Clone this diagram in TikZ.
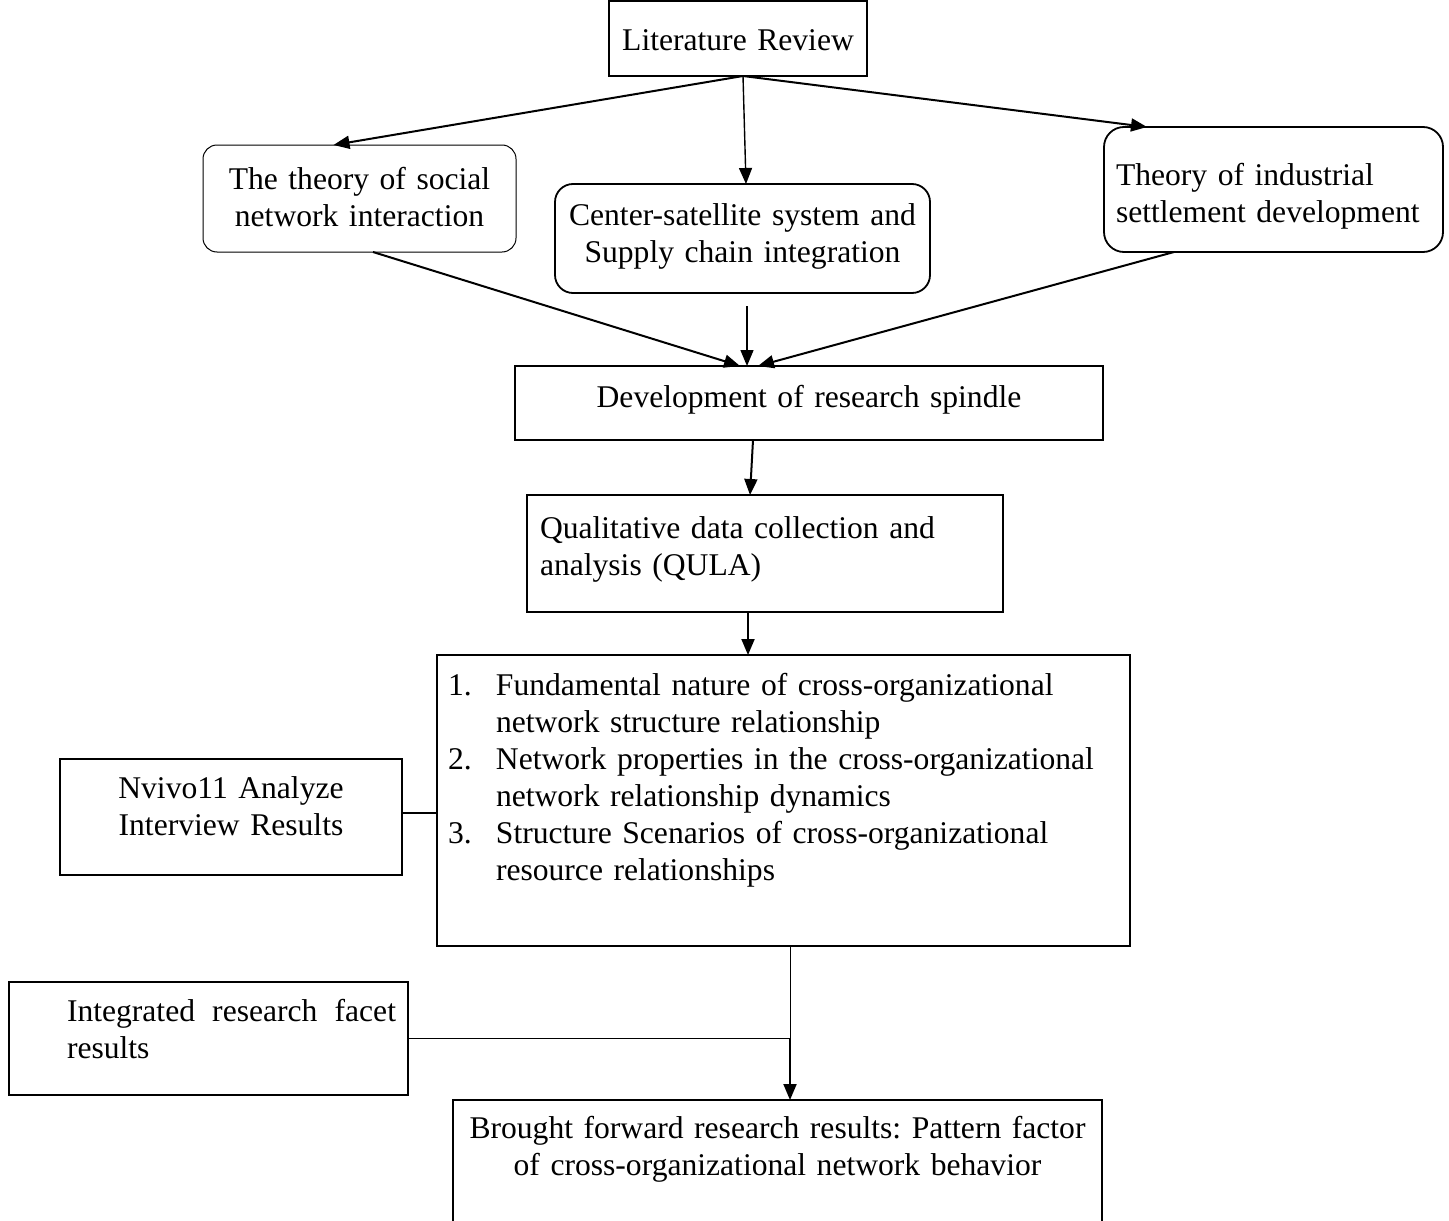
\documentclass[tikz,border=0pt]{standalone}
\usepackage{fontspec}
\setmainfont{Liberation Serif}
\usepackage{tikz}
\usetikzlibrary{arrows.meta}

\begin{document}
\frenchspacing
\begin{tikzpicture}[x=0.5pt, y=-0.5pt,
  every node/.style={font=\fontsize{15.8pt}{18.5pt}\selectfont},
  box/.style={draw, line width=0.9pt, inner xsep=0pt, inner ysep=0pt, outer sep=0pt,
    anchor=north west, align=center},
  arr/.style={-{Triangle[length=8pt,width=6.5pt]}, line width=1pt}]
\useasboundingbox (0,0) rectangle (1449,1220);
\clip (0,0) rectangle (1449,1220);
% boxes
\node[box, text width=129pt, text height=25pt, text depth=12.5pt] (lit) at (609,1) {Literature Review};
\node[box, rounded corners=7pt, line width=0.5pt, text width=156.5pt, text height=22pt, text depth=31.5pt] (social) at (203,145) {The theory of social\\network interaction};
\node[box, rounded corners=9pt, text width=187.5pt, text height=20.5pt, text depth=34pt] (csat) at (555,184) {Center-satellite system and\\Supply chain integration};
\node[box, rounded corners=10pt, align=left, inner xsep=6pt, text width=157.5pt, text height=29pt, text depth=33.5pt] (ind) at (1104,127) {Theory of industrial\\settlement development};
\node[box, text width=294pt, text height=20.5pt, text depth=16.5pt] (dev) at (515,366) {Development of research spindle};
\node[box, align=left, inner xsep=6.5pt, text width=225pt, text height=21.5pt, text depth=37pt] (qula) at (527,495) {Qualitative data collection and\\analysis (QULA)};
\node[box, align=left, inner xsep=5.5pt, text width=335.5pt, text height=20pt, text depth=125.5pt] (big) at (437,655) {%
  \makebox[24pt][l]{1.}Fundamental nature of cross-organizational\\
  \hspace*{24pt}network structure relationship\\
  \makebox[24pt][l]{2.}Network properties in the cross-organizational\\
  \hspace*{24pt}network relationship dynamics\\
  \makebox[24pt][l]{3.}Structure Scenarios of cross-organizational\\
  \hspace*{24pt}resource relationships};
\node[box, text width=171pt, text height=19.5pt, text depth=38.5pt] (nvivo) at (60,759) {Nvivo11 Analyze\\Interview Results};
\node[box, align=left, inner xsep=6pt, text width=187.5pt, text height=19.5pt, text depth=37pt] (integ) at (9,982) {%
  \hspace*{23pt}\makebox[164.5pt][s]{Integrated\hfill\ research\hfill\ facet}\\
  \hspace*{23pt}results};
\node[box, text width=324.5pt, text height=19pt, text depth=51pt] (brought) at (453,1100) {Brought forward research results: Pattern factor\\of cross-organizational network behavior};
% connectors
\coordinate (fork) at ([xshift=2.5pt]lit.south);
\draw[arr] (fork) -- ([xshift=-13pt]social.north);
\draw[arr, line width=0.7pt] (fork) -- ([xshift=1.75pt]csat.north);
\draw[arr] (fork) -- ([xshift=-63.25pt]ind.north);
\draw[arr] ([xshift=6.75pt]social.south) -- ([xshift=-34.5pt]dev.north);
\draw[arr, line width=0.7pt] ([xshift=2.25pt, yshift=-6.5pt]csat.south) -- ([xshift=-31pt]dev.north);
\draw[arr] ([xshift=-49.75pt]ind.south) -- ([xshift=-25.5pt]dev.north);
\draw[arr] ([xshift=-28pt]dev.south) -- ([xshift=-7.5pt]qula.north);
\draw[arr] ([xshift=-8.5pt]qula.south) -- ([xshift=-17.75pt]big.north);
\draw[line width=0.8pt] ([yshift=2pt]nvivo.east) -- ([yshift=2pt]nvivo.east -| big.west);
\coordinate (join) at ([xshift=3.25pt]big.south |- integ.east);
\draw[line width=0.4pt] ([xshift=3.25pt]big.south) -- (join);
\draw[line width=0.8pt] (integ.east) -- (join);
\draw[arr] (join) -- (join |- brought.north);
\end{tikzpicture}
\end{document}
